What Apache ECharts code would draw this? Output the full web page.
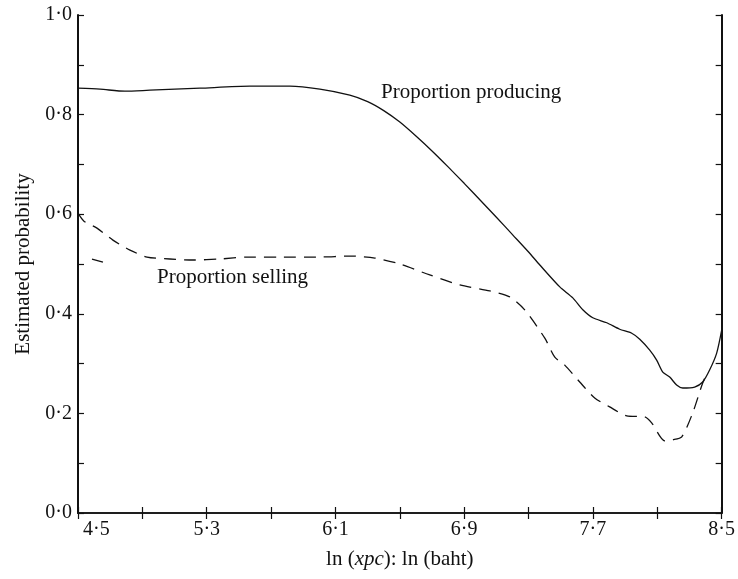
<!DOCTYPE html>
<html><head><meta charset="utf-8">
<script src="https://cdn.jsdelivr.net/npm/echarts@6/dist/echarts.min.js"></script>
<style>html,body{margin:0;padding:0;background:#fff}#c{width:738px;height:579px}</style>
</head><body><div id="c"></div>
<script>
const xLabelTicks = [4.5, 5.3, 6.1, 6.9, 7.7, 8.5];
const yLabelTicks = [0, 0.2, 0.4, 0.6, 0.8, 1.0];

const producingX = [4.5, 4.637, 4.792, 4.947, 5.258, 5.568, 5.817, 6.003, 6.189, 6.3, 6.4, 6.5, 6.6, 6.7, 6.8, 6.9, 7.0, 7.1, 7.2, 7.3, 7.370, 7.494, 7.575, 7.637, 7.699, 7.786, 7.866, 7.941, 7.991, 8.053, 8.096, 8.134, 8.177, 8.220, 8.258, 8.332, 8.382, 8.425, 8.469, 8.5];
const producingY = [0.853, 0.851, 0.847, 0.849, 0.853, 0.857, 0.857, 0.851, 0.839, 0.826, 0.808, 0.785, 0.757, 0.727, 0.695, 0.662, 0.628, 0.594, 0.559, 0.524, 0.498, 0.454, 0.432, 0.408, 0.392, 0.382, 0.369, 0.361, 0.349, 0.327, 0.307, 0.283, 0.273, 0.257, 0.251, 0.253, 0.263, 0.287, 0.321, 0.367];

const sellingX = [4.5, 4.537, 4.618, 4.717, 4.823, 4.929, 5.071, 5.214, 5.382, 5.550, 5.755, 6.003, 6.189, 6.345, 6.500, 6.686, 6.873, 7.059, 7.183, 7.276, 7.401, 7.463, 7.525, 7.618, 7.711, 7.804, 7.910, 8.022, 8.065, 8.146, 8.196, 8.252, 8.320, 8.382, 8.413];
const sellingY = [0.602, 0.586, 0.572, 0.548, 0.528, 0.514, 0.510, 0.508, 0.510, 0.514, 0.514, 0.514, 0.516, 0.512, 0.500, 0.478, 0.458, 0.446, 0.434, 0.408, 0.351, 0.313, 0.297, 0.263, 0.231, 0.213, 0.195, 0.193, 0.181, 0.145, 0.147, 0.153, 0.201, 0.261, 0.283];

const fragmentX = [4.587, 4.655];
const fragmentY = [0.510, 0.504];

const zip = (xs, ys) => xs.map((x, i) => [x, ys[i]]);
const near = (v, list) => list.some(t => Math.abs(t - v) < 1e-6);
const dot = v => v.toFixed(1).replace('.', '\u00B7');

const FONT = '"Liberation Serif", "DejaVu Serif", serif';
const axisLineStyle = { color: '#111', width: 1.6 };
const tickStyle = { color: '#111', width: 1.2 };

const chart = echarts.init(document.getElementById('c'), null, { renderer: 'canvas' });
chart.setOption({
  animation: false,
  backgroundColor: '#fff',
  grid: { left: 78, right: 15, top: 15, bottom: 66, containLabel: false },
  xAxis: [{
    type: 'value', position: 'bottom', min: 4.5, max: 8.5, interval: 0.4,
    axisLine: { show: true, lineStyle: axisLineStyle },
    axisTick: { show: true, inside: true, length: 6, lineStyle: tickStyle },
    splitLine: { show: false },
    axisLabel: {
      show: true, margin: 7, color: '#111', fontFamily: FONT, fontSize: 20,
      alignMinLabel: 'left',
      formatter: v => {
        if (!near(v, xLabelTicks)) return '';
        return Math.abs(v - 4.5) < 1e-6 ? '{m|' + dot(v) + '}' : dot(v);
      },
      rich: { m: { fontFamily: FONT, fontSize: 20, color: '#111', padding: [0, 0, 0, 5] } }
    },
    name: '{n|ln (}{i|xpc}{n|): ln (baht)}',
    nameLocation: 'middle', nameGap: 36,
    nameTextStyle: {
      rich: {
        n: { fontFamily: FONT, fontSize: 21, color: '#111' },
        i: { fontFamily: FONT, fontSize: 21, color: '#111', fontStyle: 'italic' }
      }
    }
  }, {
    type: 'value', position: 'top', min: 4.5, max: 8.5, interval: 0.4,
    axisLine: { show: true, lineStyle: axisLineStyle },
    axisTick: { show: true, inside: true, length: 6, lineStyle: tickStyle },
    splitLine: { show: false },
    axisLabel: { show: false }
  }],
  yAxis: [{
    type: 'value', position: 'left', min: 0, max: 1, interval: 0.1,
    axisLine: { show: true, lineStyle: { color: '#111', width: 2 } },
    axisTick: { show: true, inside: true, length: 6, lineStyle: tickStyle },
    splitLine: { show: false },
    axisLabel: {
      show: true, margin: 6, color: '#111', fontFamily: FONT, fontSize: 20,
      formatter: v => near(v, yLabelTicks) ? dot(v) : ''
    },
    name: 'Estimated probability',
    nameLocation: 'middle', nameGap: 44, nameRotate: 90,
    nameTextStyle: { fontFamily: FONT, fontSize: 21, color: '#111' }
  }, {
    type: 'value', position: 'right', min: 0, max: 1, interval: 0.1,
    axisLine: { show: true, lineStyle: { color: '#111', width: 2 } },
    axisTick: { show: true, inside: true, length: 6, lineStyle: tickStyle },
    splitLine: { show: false },
    axisLabel: { show: false }
  }],
  series: [{
    name: 'Proportion producing', type: 'line', xAxisIndex: 0, yAxisIndex: 0,
    data: zip(producingX, producingY), showSymbol: false, smooth: 0.25,
    lineStyle: { color: '#111', width: 1.3 }
  }, {
    name: 'Proportion selling', type: 'line', xAxisIndex: 0, yAxisIndex: 0,
    data: zip(sellingX, sellingY), showSymbol: false, smooth: 0.25,
    lineStyle: { color: '#111', width: 1.3, type: [12, 8] }
  }, {
    name: 'Proportion selling (fragment)', type: 'line', xAxisIndex: 0, yAxisIndex: 0,
    data: zip(fragmentX, fragmentY), showSymbol: false,
    lineStyle: { color: '#111', width: 1.3 }
  }],
  graphic: [{
    type: 'text', left: 381, top: 82,
    style: { text: 'Proportion producing', font: '21px ' + FONT, fill: '#111' }
  }, {
    type: 'text', left: 157, top: 267,
    style: { text: 'Proportion selling', font: '21px ' + FONT, fill: '#111' }
  }]
});
</script></body></html>
